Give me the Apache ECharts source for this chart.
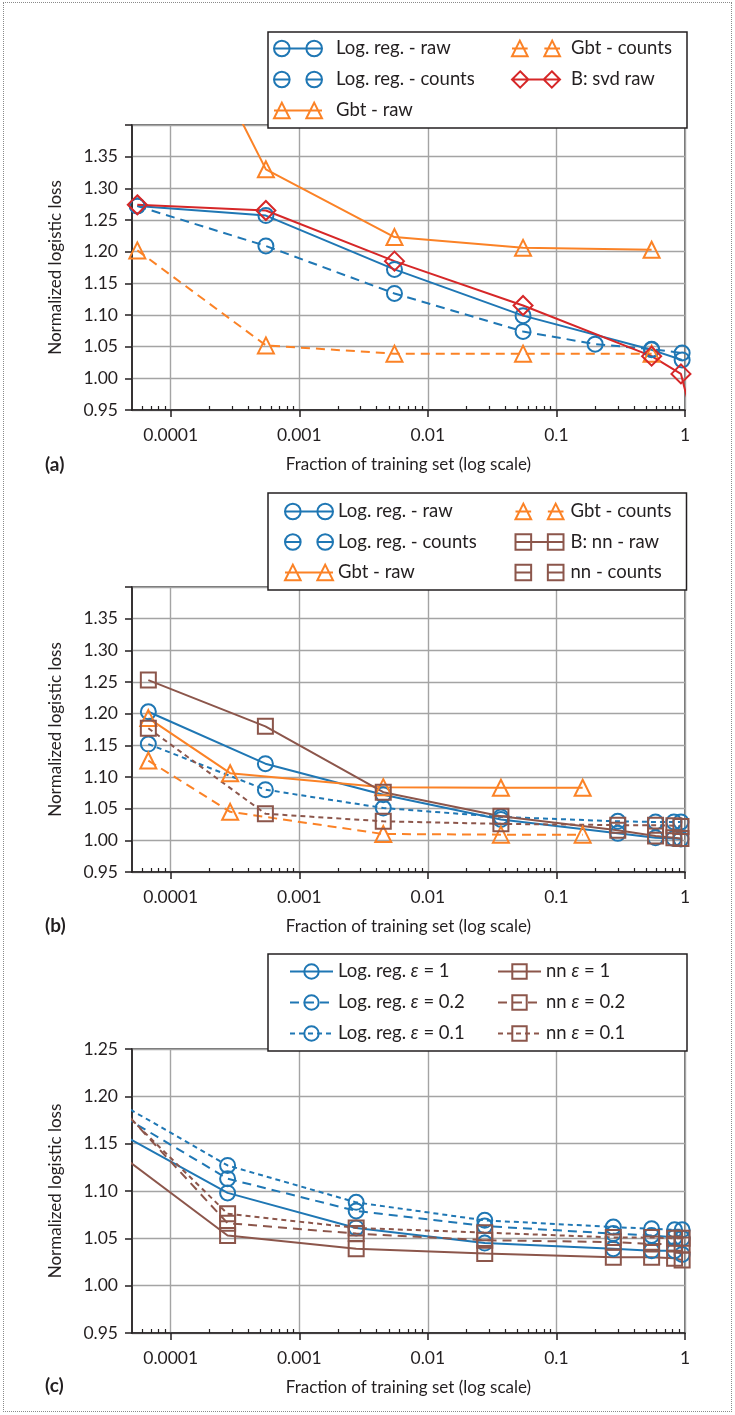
<!DOCTYPE html>
<html>
<head>
<meta charset="utf-8">
<script src="https://cdn.jsdelivr.net/npm/echarts@6/dist/echarts.min.js"></script>
<style>
  html, body { margin: 0; padding: 0; background: #fff; }
  #page { position: relative; width: 735px; height: 1415px; }
  .panel { position: absolute; left: 0; width: 735px; }
  #frame { position: absolute; left: 3px; top: 2px; width: 727px; height: 1408px; border: 1px dotted #8a8a8a; pointer-events: none; }
</style>
</head>
<body>
<div id="page">
  <div class="panel" id="pa" style="top:0;height:480px"></div>
  <div class="panel" id="pb" style="top:480px;height:470px"></div>
  <div class="panel" id="pc" style="top:950px;height:465px"></div>
  <div id="frame"></div>
</div>
<script>
// values

// (a)
const aX = [5.5e-5, 5.5e-4, 5.5e-3, 0.055, 0.55, 0.95];
const aXCounts = [5.5e-5, 5.5e-4, 5.5e-3, 0.055, 0.2, 0.55, 0.95];
const aXGbt = [5.5e-5, 5.5e-4, 5.5e-3, 0.055, 0.55];
const aXSvd = [5.5e-5, 5.5e-4, 5.5e-3, 0.055, 0.55, 0.93, 1.05];
const aLogRaw = [1.272, 1.257, 1.172, 1.099, 1.045, 1.029];
const aLogCounts = [1.272, 1.209, 1.134, 1.074, 1.054, 1.046, 1.040];
const aGbtRaw = [1.73, 1.330, 1.223, 1.206, 1.203];
const aGbtCounts = [1.202, 1.052, 1.039, 1.039, 1.039];
const aSvdRaw = [1.274, 1.265, 1.185, 1.115, 1.035, 1.007, 0.965];

// (b)
const bX = [6.7e-5, 5.45e-4, 4.5e-3, 0.037, 0.30, 0.59, 0.82, 0.93];
const bXGbt = [6.7e-5, 2.9e-4, 4.5e-3, 0.037, 0.16];
const bLogRaw = [1.203, 1.121, 1.072, 1.033, 1.011, 1.004, 1.003, 1.002];
const bLogCounts = [1.152, 1.080, 1.051, 1.037, 1.030, 1.029, 1.029, 1.029];
const bGbtRaw = [1.193, 1.106, 1.084, 1.083, 1.083];
const bGbtCounts = [1.126, 1.045, 1.010, 1.009, 1.009];
const bNnRaw = [1.253, 1.180, 1.076, 1.038, 1.016, 1.007, 1.004, 1.003];
const bNnCounts = [1.177, 1.042, 1.030, 1.026, 1.024, 1.024, 1.023, 1.022];

// (c)
const cX = [2.77e-5, 2.77e-4, 2.77e-3, 0.0277, 0.277, 0.55, 0.83, 0.95];
const cLogE1 = [1.173, 1.098, 1.061, 1.045, 1.039, 1.037, 1.037, 1.033];
const cLogE02 = [1.194, 1.113, 1.079, 1.063, 1.055, 1.053, 1.051, 1.050];
const cLogE01 = [1.205, 1.127, 1.088, 1.069, 1.062, 1.060, 1.059, 1.059];
const cNnE1 = [1.155, 1.053, 1.039, 1.034, 1.030, 1.030, 1.029, 1.027];
const cNnE02 = [1.213, 1.066, 1.055, 1.048, 1.046, 1.044, 1.044, 1.043];
const cNnE01 = [1.209, 1.076, 1.061, 1.056, 1.051, 1.051, 1.050, 1.050];

// axis ticks
const xTicks = [1e-4, 1e-3, 1e-2, 1e-1, 1];
const xMinorTicks = [6e-5, 7e-5, 8e-5, 9e-5,
  2e-4, 3e-4, 4e-4, 5e-4, 6e-4, 7e-4, 8e-4, 9e-4,
  2e-3, 3e-3, 4e-3, 5e-3, 6e-3, 7e-3, 8e-3, 9e-3,
  2e-2, 3e-2, 4e-2, 5e-2, 6e-2, 7e-2, 8e-2, 9e-2,
  0.2, 0.3, 0.4, 0.5, 0.6, 0.7, 0.8, 0.9];

const BLUE = '#1f77b4', ORANGE = '#fb8226', RED = '#d62728', BROWN = '#8c564b';
const INK = '#231f20', GRID = '#a4a4a4';
const LONG = [9, 6], SHORT = [5, 4];
const FONT = 'Lato';
const TICK_FS = 17.5, NAME_FS = 17, LEG_FS = 18.5;

function line(name, xs, ys, color, symbol, dash, size) {
  return {
    name: name, type: 'line',
    data: xs.map((x, i) => [x, ys[i]]),
    symbol: symbol, symbolSize: size || 15,
    lineStyle: { color: color, width: 2, type: dash || 'solid' },
    itemStyle: { color: 'rgba(0,0,0,0)', borderColor: color, borderWidth: 2 },
    emphasis: { disabled: true },
    animation: false
  };
}

// legend icons with two markers (panels a, b)
const shapes = {
  circ: (c, r) => `M${c - r} 9A${r} ${r} 0 1 0 ${c + r} 9A${r} ${r} 0 1 0 ${c - r} 9Z`,
  tri: (c, r) => `M${c} ${9 - r}L${c + r} ${9 + r}L${c - r} ${9 + r}Z`,
  dia: (c, r) => `M${c} ${9 - r}L${c + r} 9L${c} ${9 + r}L${c - r} 9Z`,
  sq: (c, r) => `M${c - r} ${9 - r}L${c + r} ${9 - r}L${c + r} ${9 + r}L${c - r} ${9 + r}Z`
};
function pairIcon(kind, dashed) {
  const r = kind === 'dia' ? 8 : 7.5;
  let p = shapes[kind](8.5, r) + shapes[kind](39.5, r);
  p += dashed ? 'M1 9L16 9M32 9L47 9' : 'M1 9L47 9';
  return 'path://' + p;
}
function legItem(name, color, icon, textWidth, pad) {
  const it = {
    name: name,
    itemStyle: { color: 'rgba(0,0,0,0)', borderColor: color, borderWidth: 2 },
    textStyle: { width: textWidth, padding: [0, 0, 0, pad] }
  };
  if (icon) it.icon = icon;
  return it;
}

function fmtX(v) {
  const e = Math.log10(v);
  const k = Math.round(e);
  if (Math.abs(e - k) > 1e-6) return '';
  return k >= 0 ? '1' : Math.pow(10, k).toFixed(-k);
}

function makePanel(el, o) {
  const chart = echarts.init(el);
  chart.setOption({
    backgroundColor: '#fff',
    animation: false,
    textStyle: { fontFamily: FONT },
    title: {
      text: o.tag, left: 45, top: o.tagTop, padding: 0,
      textStyle: { fontFamily: FONT, fontSize: 19, fontWeight: 'bold', color: INK }
    },
    legend: {
      orient: 'vertical', left: 268, top: o.legTop, height: 90,
      itemWidth: o.iconW, itemHeight: 18, itemGap: o.legGap,
      padding: o.legPad,
      borderColor: INK, borderWidth: 1.5, backgroundColor: '#fff',
      selectedMode: false,
      textStyle: {
        fontFamily: FONT, fontSize: LEG_FS, color: INK, lineHeight: 18,
        rich: { e: { fontFamily: FONT, fontSize: LEG_FS, lineHeight: 18, fontStyle: 'italic', color: INK } }
      },
      formatter: n => n.replace('ε', '{e|ε}'),
      data: o.legend
    },
    grid: {
      left: 132, right: 50, top: o.top, height: o.height,
      show: true, borderColor: '#444', borderWidth: 1.5, backgroundColor: 'rgba(0,0,0,0)'
    },
    xAxis: [{
      type: 'log', logBase: 10, min: 5e-5, max: 1,
      name: 'Fraction of training set (log scale)', nameLocation: 'middle', nameGap: 46,
      nameTextStyle: { fontFamily: FONT, fontSize: NAME_FS, color: INK },
      axisLine: { show: true, onZero: false, lineStyle: { color: INK, width: 1.5 } },
      axisTick: { show: true, length: 7, customValues: xTicks, lineStyle: { color: INK, width: 1.5 } },
      axisLabel: { fontSize: TICK_FS, color: INK, margin: 16, customValues: xTicks, formatter: fmtX },
      splitLine: { show: true, lineStyle: { color: GRID, width: 1.4 } }
    }, {
      type: 'log', logBase: 10, min: 5e-5, max: 1, position: 'bottom',
      axisLine: { show: false }, axisLabel: { show: false }, splitLine: { show: false },
      axisTick: { show: true, inside: true, length: 4, customValues: xMinorTicks, lineStyle: { color: INK, width: 1.2 } }
    }],
    yAxis: {
      type: 'value', min: 0.95, max: o.ymax, interval: 0.05,
      name: 'Normalized logistic loss', nameLocation: 'middle', nameGap: 68,
      nameTextStyle: { fontFamily: FONT, fontSize: NAME_FS, color: INK },
      axisLine: { show: true, lineStyle: { color: INK, width: 1.5 } },
      axisTick: { show: true, length: 7, lineStyle: { color: INK, width: 1.5 } },
      axisLabel: {
        fontSize: TICK_FS, color: INK, margin: 14,
        formatter: v => (o.hideTop && v > o.ymax - 0.001) ? '' : v.toFixed(2)
      },
      splitLine: { show: true, lineStyle: { color: GRID, width: 1.4 } }
    },
    series: o.series
  });
  return chart;
}

// panel (a)
makePanel(document.getElementById('pa'), {
  tag: '(a)', tagTop: 455, top: 125, height: 285, ymax: 1.40, hideTop: true,
  legTop: 32, iconW: 48, legGap: 12, legPad: [7, 10, 8, 5],
  legend: [
    legItem('Log. reg. - raw', BLUE, pairIcon('circ', false), 163, 9),
    legItem('Log. reg. - counts', BLUE, pairIcon('circ', true), 163, 9),
    legItem('Gbt - raw', ORANGE, pairIcon('tri', false), 163, 9),
    legItem('Gbt - counts', ORANGE, pairIcon('tri', true), 106, 6),
    legItem('B: svd raw', RED, pairIcon('dia', false), 106, 6)
  ],
  series: [
    line('Log. reg. - raw', aX, aLogRaw, BLUE, 'circle'),
    line('Log. reg. - counts', aXCounts, aLogCounts, BLUE, 'circle', LONG),
    line('Gbt - raw', aXGbt, aGbtRaw, ORANGE, 'triangle', null, 16),
    line('Gbt - counts', aXGbt, aGbtCounts, ORANGE, 'triangle', LONG, 16),
    line('B: svd raw', aXSvd, aSvdRaw, RED, 'diamond', null, 19)
  ]
});

// panel (b)
makePanel(document.getElementById('pb'), {
  tag: '(b)', tagTop: 436, top: 107, height: 285, ymax: 1.40, hideTop: true,
  legTop: 13, iconW: 48, legGap: 11.5, legPad: [9, 6, 8, 16],
  legend: [
    legItem('Log. reg. - raw', BLUE, pairIcon('circ', false), 165, 0),
    legItem('Log. reg. - counts', BLUE, pairIcon('circ', true), 165, 0),
    legItem('Gbt - raw', ORANGE, pairIcon('tri', false), 165, 0),
    legItem('Gbt - counts', ORANGE, pairIcon('tri', true), 110, 2),
    legItem('B: nn - raw', BROWN, pairIcon('sq', false), 110, 2),
    legItem('nn - counts', BROWN, pairIcon('sq', true), 110, 2)
  ],
  series: [
    line('Log. reg. - raw', bX, bLogRaw, BLUE, 'circle'),
    line('Log. reg. - counts', bX, bLogCounts, BLUE, 'circle', SHORT),
    line('Gbt - raw', bXGbt, bGbtRaw, ORANGE, 'triangle', null, 16),
    line('Gbt - counts', bXGbt, bGbtCounts, ORANGE, 'triangle', LONG, 16),
    line('B: nn - raw', bX, bNnRaw, BROWN, 'rect'),
    line('nn - counts', bX, bNnCounts, BROWN, 'rect', SHORT)
  ]
});

// panel (c)
makePanel(document.getElementById('pc'), {
  tag: '(c)', tagTop: 426, top: 99, height: 284, ymax: 1.25, hideTop: false,
  legTop: 4, iconW: 43, legGap: 12, legPad: [8, 10, 8, 21],
  legend: [
    legItem('Log. reg. ε = 1', BLUE, null, 147, 0),
    legItem('Log. reg. ε = 0.2', BLUE, null, 147, 0),
    legItem('Log. reg. ε = 0.1', BLUE, null, 147, 0),
    legItem('nn ε = 1', BROWN, null, 131, 0),
    legItem('nn ε = 0.2', BROWN, null, 131, 0),
    legItem('nn ε = 0.1', BROWN, null, 131, 0)
  ],
  series: [
    line('Log. reg. ε = 1', cX, cLogE1, BLUE, 'circle'),
    line('Log. reg. ε = 0.2', cX, cLogE02, BLUE, 'circle', LONG),
    line('Log. reg. ε = 0.1', cX, cLogE01, BLUE, 'circle', SHORT),
    line('nn ε = 1', cX, cNnE1, BROWN, 'rect'),
    line('nn ε = 0.2', cX, cNnE02, BROWN, 'rect', LONG),
    line('nn ε = 0.1', cX, cNnE01, BROWN, 'rect', SHORT)
  ]
});
</script>
</body>
</html>
